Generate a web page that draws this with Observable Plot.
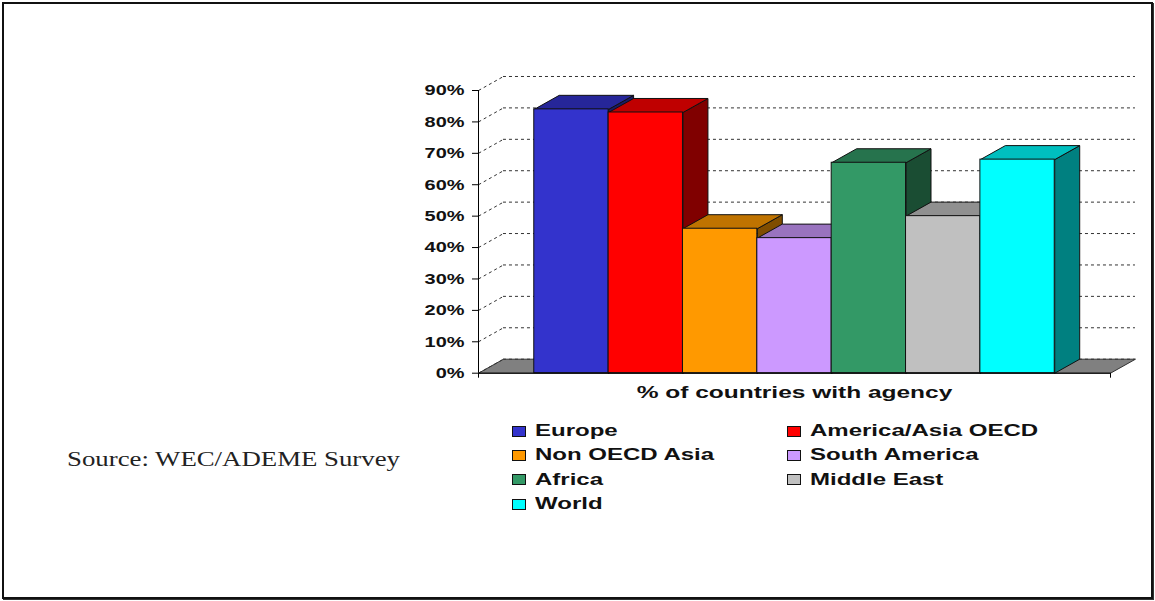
<!DOCTYPE html>
<html>
<head>
<meta charset="utf-8">
<script src="https://cdn.jsdelivr.net/npm/d3@7"></script>
<script src="https://cdn.jsdelivr.net/npm/@observablehq/plot@0.6"></script>
<style>
  html, body { margin: 0; padding: 0; background: #fff; }
  body { width: 1155px; height: 601px; overflow: hidden; position: relative; font-family: Arial, "Liberation Sans", sans-serif; }
  #frame { position: absolute; left: 2px; top: 2px; width: 1147px; height: 593px; border: 2px solid #111; box-shadow: 1px 1px 0 #333; }
  #chart { position: absolute; left: 0; top: 0; }
  .item { position: absolute; height: 20px; display: flex; align-items: center; white-space: nowrap; }
  .sw { width: 12px; height: 9px; border: 1px solid #111; box-sizing: content-box; flex: none; }
  .lb { margin-left: 9px; font-weight: bold; font-size: 16px; color: #111; display: inline-block; transform: scaleX(1.5); transform-origin: left center; }
  #source { position: absolute; left: 67px; top: 448px; font-family: "Liberation Serif", "Times New Roman", serif; font-size: 20px; color: #222; white-space: nowrap; transform: scaleX(1.34); transform-origin: left center; }
</style>
</head>
<body>
<div id="frame"></div>
<div id="chart"></div>
<div id="legend"></div>
<div id="source"></div>
<script>
// ---- data ----
const regions = ["Europe", "America/Asia OECD", "Non OECD Asia", "South America", "Africa", "Middle East", "World"];
const shares = [84, 83, 46, 43, 67, 50, 68];
const colors = ["#3333CC", "#FF0000", "#FF9900", "#CC99FF", "#339966", "#C0C0C0", "#00FFFF"];
const yTicks = [0, 10, 20, 30, 40, 50, 60, 70, 80, 90];
const categoryLabel = "% of countries with agency";
const sourceText = "Source: WEC/ADEME Survey";

// ---- 3D geometry (in data units) ----
const pad = 0.75;                       // outer padding of the group, in bar widths
const xMax = regions.length + 2 * pad;  // x domain end
const dX = 0.336;                        // depth offset along x (bar widths)
const dY = 4.46;                         // depth offset along y (percent units)

function shade(c, k) {
  const r = d3.rgb(c);
  return d3.rgb(Math.round(r.r * k), Math.round(r.g * k), Math.round(r.b * k)).formatHex();
}
function poly(pts) {
  return pts.concat([pts[0]]).map(([x, y]) => ({x, y}));
}

const bars = regions.map((r, i) => ({region: r, value: shares[i], x1: pad + i, x2: pad + i + 1, color: colors[i]}));

const floor = poly([[0, 0], [xMax, 0], [xMax + dX, dY], [dX, dY]]);

const barMarks = [];
bars.forEach((b) => {
  const side = poly([[b.x2, 0], [b.x2 + dX, dY], [b.x2 + dX, b.value + dY], [b.x2, b.value]]);
  const top = poly([[b.x1, b.value], [b.x2, b.value], [b.x2 + dX, b.value + dY], [b.x1 + dX, b.value + dY]]);
  barMarks.push(Plot.line(side, {x: "x", y: "y", fill: shade(b.color, 0.5), stroke: "#111", strokeWidth: 1, curve: "linear"}));
  barMarks.push(Plot.line(top, {x: "x", y: "y", fill: shade(b.color, 0.75), stroke: "#111", strokeWidth: 1, curve: "linear"}));
  barMarks.push(Plot.rect([b], {x1: "x1", x2: "x2", y1: () => 0, y2: "value", fill: "region", stroke: "#111", strokeWidth: 1}));
});

const chart = Plot.plot({
  width: 1155,
  height: 410,
  marginLeft: 478,
  marginRight: 45,
  marginTop: 90,
  marginBottom: 37.3,
  style: {fontFamily: "Arial, 'Liberation Sans', sans-serif", background: "transparent", color: "#111"},
  x: {type: "linear", domain: [0, xMax], axis: null},
  y: {type: "linear", domain: [0, 90], axis: null},
  color: {domain: regions, range: colors},
  marks: [
    Plot.line(floor, {x: "x", y: "y", fill: "#808080", stroke: "#333", strokeWidth: 1}),
    Plot.ruleY(yTicks, {y: (d) => d + dY, x1: () => dX, x2: () => xMax + dX, stroke: "#333", strokeDasharray: "3,3", strokeWidth: 1}),
    Plot.link(yTicks, {x1: () => 0, y1: (d) => d, x2: () => dX, y2: (d) => d + dY, stroke: "#333", strokeDasharray: "3,3", strokeWidth: 1}),
    ...barMarks,
    Plot.ruleX([0], {y1: () => 0, y2: () => 90, stroke: "#000", strokeWidth: 1}),
    Plot.ruleY([0], {x1: () => 0, x2: () => xMax, stroke: "#000", strokeWidth: 1}),
    Plot.axisY(yTicks, {tickFormat: (d) => d + "%", tickSize: 6, tickPadding: 8, fontSize: 15, fontWeight: "bold", stroke: "#000", fill: "#111"}),
    Plot.axisX([0, xMax], {tickSize: 5, tickFormat: () => "", stroke: "#000"}),
    Plot.text([categoryLabel], {x: () => xMax / 2, y: () => 0, dy: 20, text: (d) => d, fontSize: 16, fontWeight: "bold", fill: "#111", textAnchor: "middle"})
  ]
});
document.getElementById("chart").appendChild(chart);

// stretch SVG text horizontally (reference is horizontally stretched)
function stretch(nodes, k) {
  nodes.forEach((t) => {
    const w = t.getComputedTextLength();
    if (w > 0) {
      t.setAttribute("textLength", (w * k).toFixed(1));
      t.setAttribute("lengthAdjust", "spacingAndGlyphs");
    }
  });
}
const allText = Array.from(chart.querySelectorAll("text"));
stretch(allText.filter((t) => /^\d+%$/.test(t.textContent.trim())), 1.33);
stretch(allText.filter((t) => t.textContent.trim() === categoryLabel), 1.53);

// legend
const legend = document.getElementById("legend");
regions.forEach((r, i) => {
  const item = document.createElement("div");
  item.className = "item";
  item.style.left = (i % 2 ? 787 : 512) + "px";
  item.style.top = (421 + Math.floor(i / 2) * 24.4) + "px";
  const sw = document.createElement("span");
  sw.className = "sw";
  sw.style.background = colors[i];
  const lb = document.createElement("span");
  lb.className = "lb";
  lb.textContent = r;
  item.appendChild(sw);
  item.appendChild(lb);
  legend.appendChild(item);
});
document.getElementById("source").textContent = sourceText;
</script>
</body>
</html>
